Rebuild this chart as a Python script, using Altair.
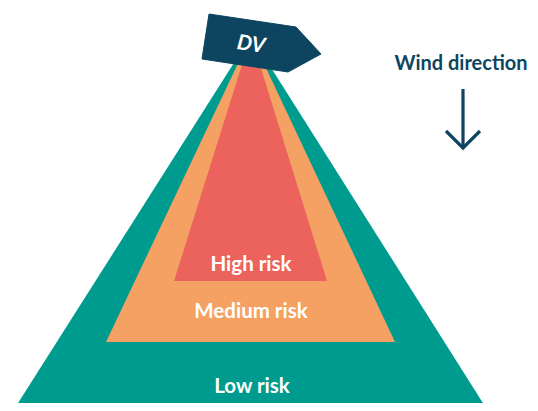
import altair as alt
import pandas as pd

# Risk zones (page-pixel geometry)
zones = ["Low risk", "Medium risk", "High risk"]
zone_colors = ["#009b8f", "#f4a163", "#ec635e"]
apex_x = 251
apex_y = 36
bottom_y = [411, 342, 281]
bottom_left = [13, 106, 174]
bottom_right = [488, 395, 327]

label_x = [252, 251, 251]
label_y = [393, 318, 271]

# DV sign outline
sign_x = [209, 296, 321, 288, 202, 209]
sign_y = [14, 27, 54, 72, 59, 14]
sign_label = "DV"
sign_label_pos = (251, 45)

# Wind direction
wind_text = "Wind direction"
wind_text_pos = (461, 70)
shaft_x = [463, 463]
shaft_y = [89, 149]
head_x = [446, 463, 480]
head_y = [131, 148, 131]

navy = "#0d4560"

# view occupies page pixels 8..530 x 8..403 (page has an 8px margin)
X = alt.Scale(domain=[8, 530], nice=False, zero=False)
Y = alt.Scale(domain=[403, 8], nice=False, zero=False)

def xe(f="x"):
    return alt.X(f + ":Q", scale=X, axis=None)

def ye(f="y"):
    return alt.Y(f + ":Q", scale=Y, axis=None)

layers = []
for i, z in enumerate(zones):
    df = pd.DataFrame({
        "y": [apex_y, bottom_y[i]],
        "x": [apex_x, bottom_left[i]],
        "x2": [apex_x, bottom_right[i]],
    })
    layers.append(
        alt.Chart(df).mark_area(orient="horizontal", color=zone_colors[i], clip=True).encode(
            y=ye(), x=xe(), x2="x2:Q"
        )
    )

sign_df = pd.DataFrame({"x": sign_x, "y": sign_y, "o": list(range(len(sign_x)))})
layers.append(
    alt.Chart(sign_df).mark_line(fill=navy, stroke=navy, strokeWidth=1).encode(
        x=xe(), y=ye(), order="o:Q"
    )
)

lab_df = pd.DataFrame({"x": label_x, "y": label_y, "t": zones})
layers.append(
    alt.Chart(lab_df).mark_text(
        font="Lato", fontWeight="bold", fontSize=20.5, color="white",
        baseline="alphabetic", align="center"
    ).encode(x=xe(), y=ye(), text="t:N")
)

dv_df = pd.DataFrame({"x": [sign_label_pos[0]], "y": [sign_label_pos[1]], "t": [sign_label]})
layers.append(
    alt.Chart(dv_df).mark_text(
        font="Lato", fontWeight="bold", fontStyle="italic", fontSize=21, color="white",
        baseline="middle", align="center", angle=8
    ).encode(x=xe(), y=ye(), text="t:N")
)

wind_df = pd.DataFrame({"x": [wind_text_pos[0]], "y": [wind_text_pos[1]], "t": [wind_text]})
layers.append(
    alt.Chart(wind_df).mark_text(
        font="Lato", fontWeight="bold", fontSize=20, color=navy,
        baseline="alphabetic", align="center"
    ).encode(x=xe(), y=ye(), text="t:N")
)

shaft_df = pd.DataFrame({"x": shaft_x, "y": shaft_y, "o": [0, 1]})
layers.append(
    alt.Chart(shaft_df).mark_line(color=navy, strokeWidth=3.2).encode(
        x=xe(), y=ye(), order="o:Q"
    )
)
head_df = pd.DataFrame({"x": head_x, "y": head_y, "o": [0, 1, 2]})
layers.append(
    alt.Chart(head_df).mark_line(color=navy, strokeWidth=3.2, strokeJoin="miter").encode(
        x=xe(), y=ye(), order="o:Q"
    )
)

chart = alt.layer(*layers).properties(
    width=522, height=395, padding=0, background="white",
    autosize=alt.AutoSizeParams(type="none")
).configure_view(stroke=None, strokeWidth=0)

chart.save("out.html", embed_options={"renderer": "svg", "actions": False})
